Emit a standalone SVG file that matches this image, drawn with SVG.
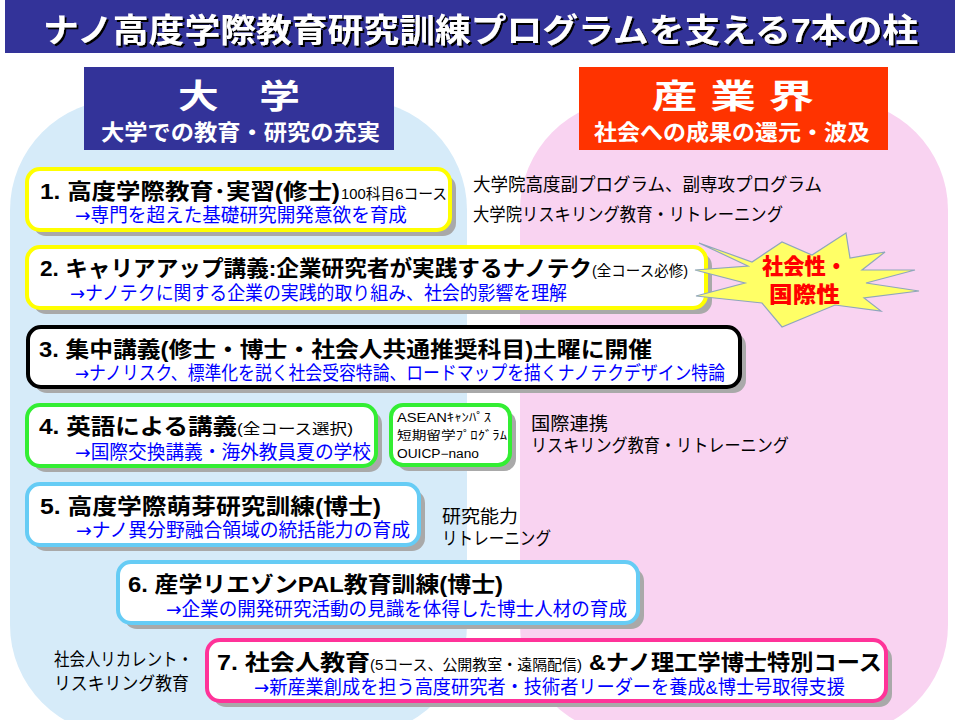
<svg xmlns="http://www.w3.org/2000/svg" width="960" height="720" viewBox="0 0 960 720">
<style>
text{font-family:"Liberation Sans","Noto Sans CJK JP","Noto Sans",sans-serif}
.h{font-weight:700;fill:#000;font-size:22px}
.hs{font-weight:400;fill:#000;font-size:15px}
.s{fill:#0000ff;font-size:19px}
.n{fill:#000;font-size:18px}
.w{fill:#fff;font-weight:700}
.box{fill:#fff;stroke-width:4}
.sh{fill:#a9a9a9}
.ar{font-family:"DejaVu Sans","Noto Sans CJK JP",sans-serif}
</style>
<defs>
<filter id="shadow" x="-5%" y="-20%" width="110%" height="150%">
<feDropShadow dx="2" dy="2" stdDeviation="0.3" flood-color="#000" flood-opacity="1"/>
</filter>
</defs>
<rect width="960" height="720" fill="#fff"/>
<g id="background">
<rect x="10" y="100" width="457" height="635" rx="110" ry="110" fill="#d6ebf9"/>
<rect x="520" y="100" width="428" height="635" rx="110" ry="110" fill="#f9d3f1"/>
</g>
<g id="title">
<rect x="5" y="0" width="950" height="53" fill="#333399"/>
<text x="43" y="42" font-size="33" class="w" filter="url(#shadow)" textLength="875" lengthAdjust="spacingAndGlyphs">ナノ高度学際教育研究訓練プログラムを支える7本の柱</text>
</g>
<g id="university">
<rect x="84" y="67" width="310" height="83" fill="#333399"/>
<text x="178" y="108" font-size="33" class="w" textLength="122" lengthAdjust="spacingAndGlyphs">大　学</text>
<text x="101" y="140" font-size="22" class="w" textLength="279" lengthAdjust="spacingAndGlyphs">大学での教育・研究の充実</text>
</g>
<g id="industry">
<rect x="579" y="67" width="309" height="83" fill="#ff3300"/>
<text x="652" y="108" font-size="33" class="w" textLength="162" lengthAdjust="spacingAndGlyphs">産 業 界</text>
<text x="594" y="140" font-size="22" class="w" textLength="276" lengthAdjust="spacingAndGlyphs">社会への成果の還元・波及</text>
</g>
<g id="connectors"></g>
<g id="pillar1">
<rect class="sh" x="33" y="175" width="423" height="61" rx="13"/>
<rect class="box" x="27" y="169" width="423" height="61" rx="13" stroke="#ffff00"/>
<text class="h" x="40" y="199" textLength="300" lengthAdjust="spacingAndGlyphs">1. 高度学際教育･実習(修士)</text>
<text class="hs" x="341" y="199" font-size="14" textLength="106" lengthAdjust="spacingAndGlyphs">100科目6コース</text>
<text class="s" x="75" y="222" textLength="332" lengthAdjust="spacingAndGlyphs"><tspan class="ar">→</tspan>専門を超えた基礎研究開発意欲を育成</text>
</g>
<g id="note1">
<text class="n" x="473" y="191" textLength="349" lengthAdjust="spacingAndGlyphs">大学院高度副プログラム、副専攻プログラム</text>
<text class="n" x="473" y="221" textLength="310" lengthAdjust="spacingAndGlyphs">大学院リスキリング教育・リトレーニング</text>
</g>
<g id="pillar2">
<rect class="sh" x="33" y="253" width="679" height="61" rx="13"/>
<rect class="box" x="27" y="247" width="679" height="61" rx="13" stroke="#ffff00"/>
<text class="h" x="40" y="276" textLength="552" lengthAdjust="spacingAndGlyphs">2. キャリアアップ講義:企業研究者が実践するナノテク</text>
<text class="hs" x="592" y="276" textLength="96" lengthAdjust="spacingAndGlyphs">(全コース必修)</text>
<text class="s" x="70" y="300" textLength="497" lengthAdjust="spacingAndGlyphs"><tspan class="ar">→</tspan>ナノテクに関する企業の実践的取り組み、社会的影響を理解</text>
</g>
<g id="starburst">
<polygon points="699,243 752,262 782,242 812,255 846,233 850,258 885,252 862,270 915,270 866,283 919,291 864,298 881,311 835,305 782,327 762,303 696,296 745,283 695,270 748,266" fill="#ffff66" stroke="#8fa6bd" stroke-width="1.2"/>
<text x="762" y="274" font-size="22" font-weight="900" fill="#ff0000" textLength="85" lengthAdjust="spacingAndGlyphs">社会性・</text>
<text x="769" y="302" font-size="22" font-weight="900" fill="#ff0000" textLength="71" lengthAdjust="spacingAndGlyphs">国際性</text>
</g>
<g id="pillar3">
<rect class="sh" x="34" y="333" width="712" height="60" rx="13"/>
<rect class="box" x="28" y="327" width="712" height="60" rx="13" stroke="#000000"/>
<text class="h" x="39" y="357" textLength="613" lengthAdjust="spacingAndGlyphs">3. 集中講義(修士・博士・社会人共通推奨科目)土曜に開催</text>
<text class="s" x="75" y="380" font-size="18" textLength="650" lengthAdjust="spacingAndGlyphs"><tspan class="ar">→</tspan>ナノリスク、標準化を説く社会受容特論、ロードマップを描くナノテクデザイン特論</text>
</g>
<g id="pillar4">
<rect class="sh" x="33" y="411" width="349" height="61" rx="13"/>
<rect class="box" x="27" y="405" width="349" height="61" rx="13" stroke="#33ee33"/>
<text class="h" x="39" y="434" textLength="198" lengthAdjust="spacingAndGlyphs">4. 英語による講義</text>
<text class="hs" x="237" y="434" font-size="17" textLength="116" lengthAdjust="spacingAndGlyphs">(全コース選択)</text>
<text class="s" x="75" y="459" textLength="296" lengthAdjust="spacingAndGlyphs"><tspan class="ar">→</tspan>国際交換講義・海外教員夏の学校</text>
</g>
<g id="asean">
<rect class="sh" x="397" y="411" width="119" height="60" rx="12"/>
<rect class="box" x="391" y="405" width="119" height="60" rx="12" stroke="#33ee33"/>
<text x="397" y="422" font-size="12" fill="#000" textLength="94" lengthAdjust="spacingAndGlyphs">ASEANｷｬﾝﾊﾟｽ</text>
<text x="397" y="440" font-size="12" fill="#000" textLength="110" lengthAdjust="spacingAndGlyphs">短期留学ﾌﾟﾛｸﾞﾗﾑ</text>
<text x="397" y="458" font-size="12" fill="#000" textLength="82" lengthAdjust="spacingAndGlyphs">OUICP−nano</text>
</g>
<g id="note4">
<text class="n" x="531" y="430" textLength="77" lengthAdjust="spacingAndGlyphs">国際連携</text>
<text class="n" x="531" y="452" textLength="258" lengthAdjust="spacingAndGlyphs">リスキリング教育・リトレーニング</text>
</g>
<g id="pillar5">
<rect class="sh" x="33" y="490" width="392" height="61" rx="13"/>
<rect class="box" x="27" y="484" width="392" height="61" rx="13" stroke="#66ccf5"/>
<text class="h" x="40" y="514" textLength="341" lengthAdjust="spacingAndGlyphs">5. 高度学際萌芽研究訓練(博士)</text>
<text class="s" x="76" y="537" textLength="334" lengthAdjust="spacingAndGlyphs"><tspan class="ar">→</tspan>ナノ異分野融合領域の統括能力の育成</text>
</g>
<g id="note5">
<text class="n" x="442" y="523" font-size="17" textLength="76" lengthAdjust="spacingAndGlyphs">研究能力</text>
<text class="n" x="442" y="545" font-size="17" textLength="109" lengthAdjust="spacingAndGlyphs">リトレーニング</text>
</g>
<g id="pillar6">
<rect class="sh" x="124" y="568" width="520" height="61" rx="13"/>
<rect class="box" x="118" y="562" width="520" height="61" rx="13" stroke="#66ccf5"/>
<text class="h" x="128" y="592" textLength="375" lengthAdjust="spacingAndGlyphs">6. 産学リエゾンPAL教育訓練(博士)</text>
<text class="s" x="166" y="616" textLength="461" lengthAdjust="spacingAndGlyphs"><tspan class="ar">→</tspan>企業の開発研究活動の見識を体得した博士人材の育成</text>
</g>
<g id="pillar7">
<rect class="sh" x="213" y="646" width="679" height="61" rx="13"/>
<rect class="box" x="207" y="640" width="679" height="61" rx="13" stroke="#ff3399"/>
<text class="h" x="217" y="670" textLength="153" lengthAdjust="spacingAndGlyphs">7. 社会人教育</text>
<text class="hs" x="370" y="670" font-size="14" textLength="212" lengthAdjust="spacingAndGlyphs">(5コース、公開教室・遠隔配信)</text>
<text class="h" x="589" y="670" textLength="293" lengthAdjust="spacingAndGlyphs">&amp;ナノ理工学博士特別コース</text>
<text class="s" x="254" y="694" font-size="18" textLength="591" lengthAdjust="spacingAndGlyphs"><tspan class="ar">→</tspan>新産業創成を担う高度研究者・技術者リーダーを養成&amp;博士号取得支援</text>
</g>
<g id="note7">
<text class="n" x="54" y="666" font-size="16" textLength="139" lengthAdjust="spacingAndGlyphs">社会人リカレント・</text>
<text class="n" x="54" y="690" font-size="16" textLength="135" lengthAdjust="spacingAndGlyphs">リスキリング教育</text>
</g>
</svg>
